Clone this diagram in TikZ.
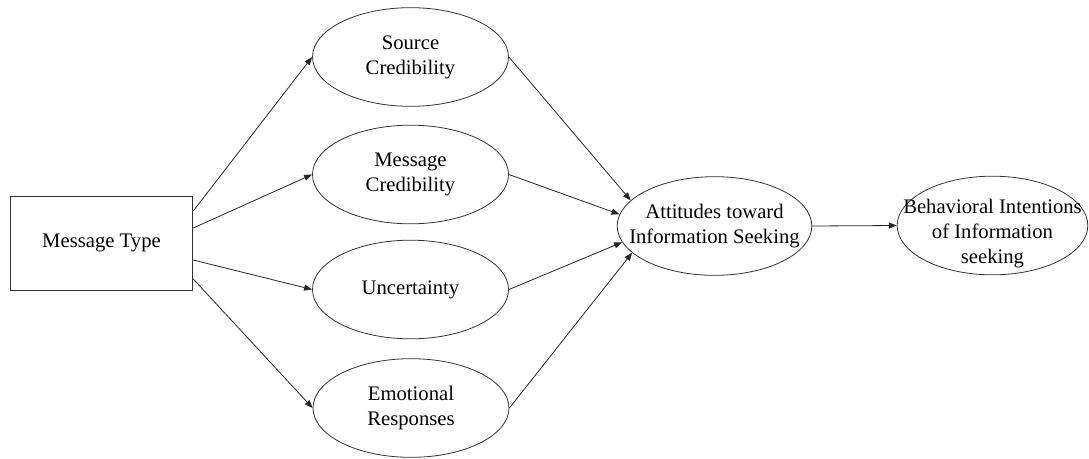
\documentclass[tikz,border=0pt]{standalone}
\usepackage{fontspec}
\setmainfont{Liberation Serif}
\newfontfamily\tnr{Liberation Serif}
\usetikzlibrary{shapes.geometric,arrows.meta}
\begin{document}
\begin{tikzpicture}[x=0.75pt,y=-0.75pt,
  txt/.style={font=\tnr\fontsize{15.5}{18.75}\selectfont, align=center, text=black},
  oval/.style={draw=black!80, ellipse, inner sep=0pt, minimum width=147pt, minimum height=74pt, line width=0.6pt},
  box/.style={draw=black!80, rectangle, inner sep=0pt, minimum width=137pt, minimum height=70.5pt, line width=0.6pt, txt},
  arr/.style={draw=black!85, -{Triangle[length=6pt,width=4.5pt]}, line width=0.6pt}]
\useasboundingbox (0,0) rectangle (1089,458);
\node[box] (mt) at (101.5,243) {Message Type};
\node[oval, label={[txt]center:Source\\Credibility}] (sc) at (410.5,57) {};
\node[oval, label={[txt]center:Message\\Credibility}] (mc) at (410.5,174.5) {};
\node[oval, label={[txt]center:Uncertainty}] (un) at (410.5,289.5) {};
\node[oval, label={[txt]center:Emotional\\Responses}] (er) at (411,408) {};
\node[oval, minimum width=146pt, label={[txt]center:Attitudes toward\\Information Seeking}] (att) at (714.5,226) {};
\node[oval, minimum width=143pt, label={[txt, yshift=-6pt]center:Behavioral Intentions\\of Information\\seeking}] (beh) at (992.5,225.5) {};
\draw[arr] ([yshift=24pt]mt.east) -- (sc.west);
\draw[arr] ([yshift=11.25pt]mt.east) -- (mc.west);
\draw[arr] ([yshift=-12.75pt]mt.east) -- (un.west);
\draw[arr] ([yshift=-27pt]mt.east) -- (er.west);
\draw[arr] (sc.east) -- (att.163);
\draw[arr] (mc.east) -- (att.173);
\draw[arr] (un.east) -- (att.190);
\draw[arr] (er.east) -- (att.198);
\draw[arr] (att.east) -- (beh.west);
\end{tikzpicture}
\end{document}
